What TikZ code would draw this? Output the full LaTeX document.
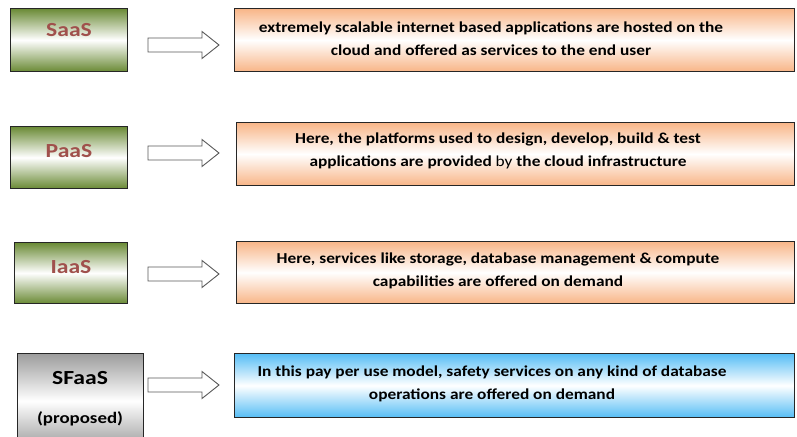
\documentclass[tikz,border=0pt]{standalone}
\usepackage{fontspec}
\setmainfont{Carlito}
\newfontfamily\widefont[FakeStretch=1.18]{Carlito}
\newfontfamily\descfont[FakeStretch=1.14]{Carlito}
\begin{document}
\begin{tikzpicture}[x=1pt,y=-1pt,
  box/.style={draw=black!85, line width=1pt, anchor=north west, inner sep=0pt},
  greenbox/.style={box, top color=green1, bottom color=green1, middle color=white},
  orangebox/.style={box, top color=orange1, bottom color=orange1, middle color=white},
  bluebox/.style={box, top color=blue1, bottom color=blue1, middle color=white},
  graybox/.style={box, top color=gray1, bottom color=gray1, middle color=white},
  lbl/.style={font=\widefont\fontsize{20}{22}\selectfont\bfseries, text=red1},
  desc/.style={font=\descfont\fontsize{15.2}{22.5}\selectfont\bfseries, align=center, text=black},
  blockarrow/.style={draw=gray!70!black, line width=0.9pt, fill=white, line join=miter}
]
\definecolor{green1}{HTML}{6A8A35}
\definecolor{orange1}{HTML}{F8B587}
\definecolor{blue1}{HTML}{55BDF5}
\definecolor{gray1}{HTML}{9C9C9C}
\definecolor{red1}{HTML}{A0504C}
\useasboundingbox (0,0) rectangle (797,436);
\clip (0,0) rectangle (797,436);
\fill[white] (0,0) rectangle (797,436);

% left boxes
\node[greenbox, minimum width=117pt, minimum height=63pt] (saas) at (10,8) {};
\node[lbl] (saasl) at ([yshift=10pt]saas.center) {SaaS};
\node[greenbox, minimum width=117pt, minimum height=62pt] (paas) at (10,126) {};
\node[lbl] (paasl) at ([yshift=6pt]paas.center) {PaaS};
\node[greenbox, minimum width=113pt, minimum height=61pt] (iaas) at (14,242) {};
\node[lbl] (iaasl) at ([yshift=6pt]iaas.center) {IaaS};
\node[graybox, minimum width=126pt, minimum height=95pt] (sfaas) at (17,353) {};
\node[lbl, text=black] (sfaasl) at (80,378) {SFaaS};
\node[lbl, text=black, font=\widefont\fontsize{16}{20}\selectfont\bfseries] (propl) at (80,419) {(proposed)};

% right boxes
\node[orangebox, minimum width=560pt, minimum height=63pt] (d1) at (234,8) {};
\node[desc] (d1t) at (491,38.5) {extremely scalable internet based applications are hosted on the\\cloud and offered as services to the end user};
\node[orangebox, minimum width=558pt, minimum height=63pt] (d2) at (236,122) {};
\node[desc] (d2t) at (498,151) {Here, the platforms used to design, develop, build \& test\\applications are provided {\mdseries by} the cloud infrastructure};
\node[orangebox, minimum width=558pt, minimum height=62pt] (d3) at (236,241) {};
\node[desc] (d3t) at (498,271) {Here, services like storage, database management \& compute\\capabilities are offered on demand};
\node[bluebox, minimum width=560pt, minimum height=64pt] (d4) at (234,353) {};
\node[desc] (d4t) at (492,384) {In this pay per use model, safety services on any kind of database\\operations are offered on demand};

% block arrows
\coordinate (a1) at (148,45);
\coordinate (a2) at (148,153);
\coordinate (a3) at (148,274);
\coordinate (a4) at (148,385);
\foreach \a in {a1,a2,a3,a4}{
  \draw[blockarrow] (\a) ++(0,-7) -- ++(54,0) -- ++(0,-6.5) -- ++(17,13.5) -- ++(-17,13.5) -- ++(0,-6.5) -- ++(-54,0) -- cycle;
}
\end{tikzpicture}
\end{document}
